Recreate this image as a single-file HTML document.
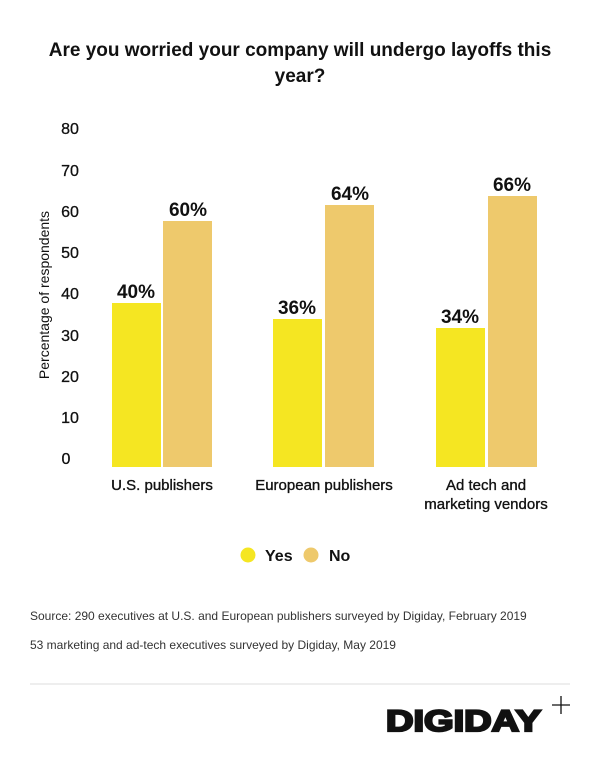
<!DOCTYPE html>
<html><head><style>
body{margin:0;width:600px;height:754px;background:#fff;font-family:"Liberation Sans",Arial,sans-serif;}
</style></head><body>
<svg width="600" height="754" xmlns="http://www.w3.org/2000/svg" font-family="Liberation Sans, Arial, sans-serif">
<text x="300" y="56" text-anchor="middle" font-size="19" font-weight="bold" fill="#111">Are you worried your company will undergo layoffs this</text>
<text x="300" y="82" text-anchor="middle" font-size="19" font-weight="bold" fill="#111">year?</text>
<g font-size="16" fill="#111" stroke="#111" stroke-width="0.3" text-anchor="middle">
<text x="70" y="134">80</text><text x="70" y="176">70</text><text x="70" y="217">60</text>
<text x="70" y="258">50</text><text x="70" y="299">40</text><text x="70" y="341">30</text>
<text x="70" y="382">20</text><text x="70" y="423">10</text><text x="66" y="464">0</text>
</g>
<text transform="translate(49,295) rotate(-90)" text-anchor="middle" font-size="14" fill="#111">Percentage of respondents</text>
<g fill="#f5e622">
<rect x="112" y="303" width="49" height="164"/>
<rect x="273" y="319" width="49" height="148"/>
<rect x="436" y="328" width="49" height="139"/>
</g>
<g fill="#eec96c">
<rect x="163" y="221" width="49" height="246"/>
<rect x="325" y="205" width="49" height="262"/>
<rect x="488" y="196" width="49" height="271"/>
</g>
<g font-size="19" font-weight="bold" fill="#111" text-anchor="middle">
<text x="136" y="298">40%</text><text x="188" y="216">60%</text>
<text x="297" y="314">36%</text><text x="350" y="200">64%</text>
<text x="460" y="323">34%</text><text x="512" y="191">66%</text>
</g>
<g font-size="15" fill="#111" stroke="#111" stroke-width="0.35" text-anchor="middle">
<text x="162" y="490">U.S. publishers</text>
<text x="324" y="490">European publishers</text>
<text x="486" y="490">Ad tech and</text>
<text x="486" y="509">marketing vendors</text>
</g>
<circle cx="248" cy="555" r="7.5" fill="#f5e622"/>
<text x="265" y="561" font-size="16" font-weight="bold" fill="#111">Yes</text>
<circle cx="311" cy="555" r="7.5" fill="#eec96c"/>
<text x="329" y="561" font-size="16" font-weight="bold" fill="#111">No</text>
<text x="30" y="620" font-size="12" fill="#333">Source: 290 executives at U.S. and European publishers surveyed by Digiday, February 2019</text>
<text x="30" y="649" font-size="12" fill="#333">53 marketing and ad-tech executives surveyed by Digiday, May 2019</text>
<line x1="30" y1="684" x2="570" y2="684" stroke="#ddd" stroke-width="1"/>
<text x="386" y="731" font-size="30" font-weight="900" fill="#111" stroke="#111" stroke-width="2.2" textLength="155" lengthAdjust="spacingAndGlyphs">DIGIDAY</text>
<line x1="552" y1="705" x2="570" y2="705" stroke="#111" stroke-width="1.3"/>
<line x1="561" y1="696" x2="561" y2="714" stroke="#111" stroke-width="1.3"/>
</svg>
</body></html>
